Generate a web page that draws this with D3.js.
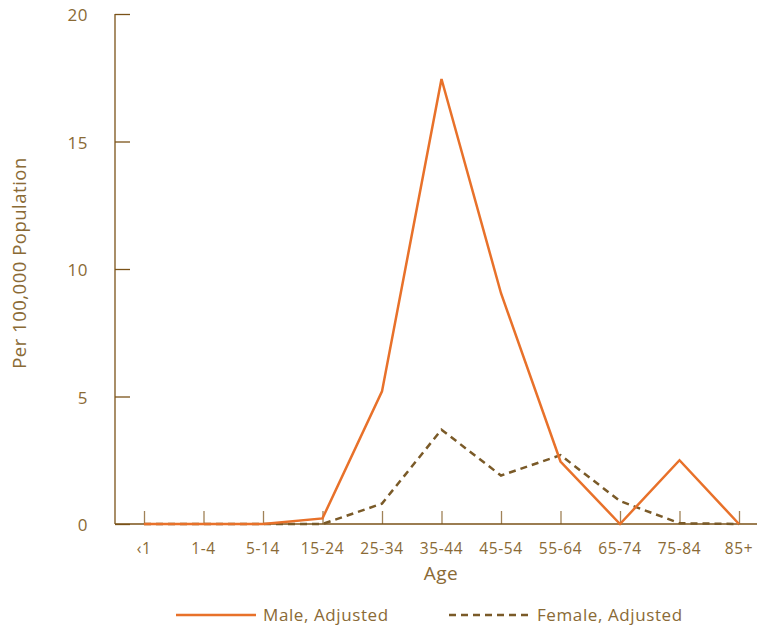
<!DOCTYPE html>
<html><head><meta charset="utf-8">
<script src="https://cdn.jsdelivr.net/npm/d3@7"></script>
<style>body{margin:0;background:#fff}</style>
</head><body>
<script>
const categories = ["‹1","1-4","5-14","15-24","25-34","35-44","45-54","55-64","65-74","75-84","85+"];
const maleValues = [0,0,0,0.22,5.2,17.45,9.05,2.45,0,2.5,0];
const femaleValues = [0,0,0,0,0.8,3.7,1.9,2.7,0.9,0.03,0];
const yTicks = [0,5,10,15,20];
const seriesNames = ["Male, Adjusted","Female, Adjusted"];

const W=758,H=629;
const font="'Open Sans', sans-serif";
const textCol="#8a6a35", axisCol="#7a5218", maleCol="#e8712a", femCol="#7a5a28";
const svg=d3.select("body").append("svg").attr("width",W).attr("height",H);

const x=d3.scalePoint().domain(categories).range([144,739]);
const y=d3.scaleLinear().domain([0,20]).range([524,14]);

// axes
const gy=svg.append("g").attr("transform","translate(115,0)")
 .call(d3.axisRight(y).tickValues(yTicks).tickSize(15).tickFormat(""));
gy.select(".domain").remove();
gy.selectAll("line").attr("stroke",axisCol).attr("stroke-width",1.3);
svg.append("line").attr("x1",115).attr("x2",115).attr("y1",y(20)).attr("y2",y(0)).attr("stroke",axisCol).attr("stroke-width",1.3);
svg.selectAll(".ylab").data(yTicks).join("text").attr("x",88).attr("y",d=>y(d)+7)
 .attr("text-anchor","end").attr("fill",textCol).style("font-family",font).style("font-size","17px")
 .style("letter-spacing","0.5px").text(d=>d);

const gx=svg.append("g").attr("transform","translate(0,524)")
 .call(d3.axisTop(x).tickSize(13).tickFormat(""));
gx.select(".domain").remove();
gx.selectAll("line").attr("stroke","#a08257").attr("stroke-width",1.3);
svg.append("line").attr("x1",115).attr("x2",757).attr("y1",524).attr("y2",524).attr("stroke",axisCol).attr("stroke-width",1.3);
svg.selectAll(".xlab").data(categories).join("text").attr("x",d=>x(d)).attr("y",554)
 .attr("text-anchor","middle").attr("fill",textCol).style("font-family",font).style("font-size","15.5px")
 .style("letter-spacing","0.6px").text(d=>d);

svg.append("text").attr("x",441).attr("y",580).attr("text-anchor","middle").attr("fill",textCol)
 .style("font-family",font).style("font-size","19px").style("letter-spacing","0.5px").text("Age");
svg.append("text").attr("transform","translate(26,263) rotate(-90)").attr("text-anchor","middle").attr("fill",textCol)
 .style("font-family",font).style("font-size","18.5px").style("letter-spacing","0.5px").text("Per 100,000 Population");

const line=d3.line().x((d,i)=>x(categories[i])).y(d=>y(d));
svg.append("path").datum(femaleValues).attr("d",line).attr("fill","none").attr("stroke",femCol)
 .attr("stroke-width",2.5).attr("stroke-dasharray","7,5");
svg.append("path").datum(maleValues).attr("d",line).attr("fill","none").attr("stroke",maleCol)
 .attr("stroke-width",2.5).attr("stroke-linejoin","miter");

// legend
svg.append("line").attr("x1",176).attr("x2",256).attr("y1",615).attr("y2",615).attr("stroke",maleCol).attr("stroke-width",2.5);
svg.append("text").attr("x",263).attr("y",621).attr("fill",textCol).style("font-family",font).style("font-size","17px")
 .style("letter-spacing","0.6px").text(seriesNames[0]);
svg.append("line").attr("x1",449).attr("x2",528).attr("y1",615).attr("y2",615).attr("stroke",femCol).attr("stroke-width",2.5).attr("stroke-dasharray","7,5");
svg.append("text").attr("x",537).attr("y",621).attr("fill",textCol).style("font-family",font).style("font-size","17px")
 .style("letter-spacing","0.6px").text(seriesNames[1]);
</script>
</body></html>
